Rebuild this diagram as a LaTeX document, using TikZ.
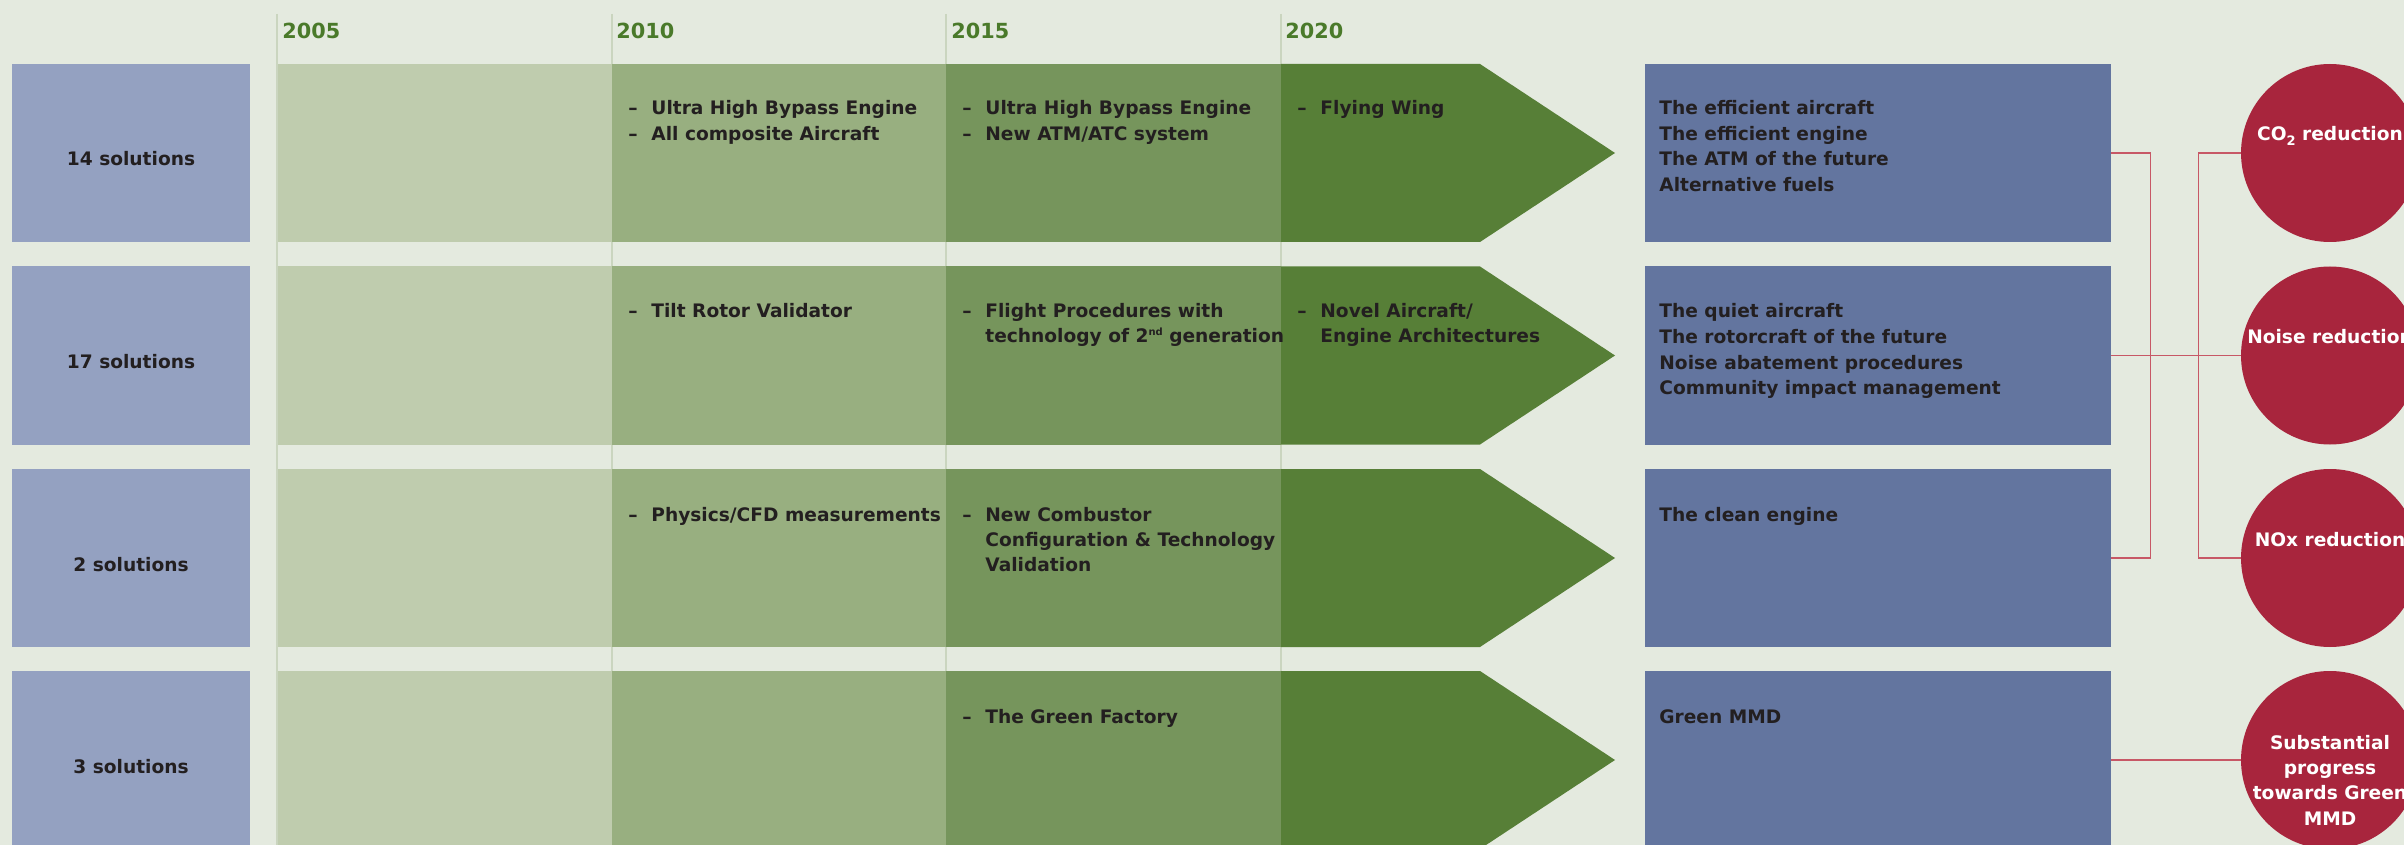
\documentclass[tikz,border=0pt]{standalone}
\usepackage{fontspec}
\setmainfont{DejaVu Sans}
\definecolor{bgc}{HTML}{E4EADF}
\definecolor{lboxc}{HTML}{94A1C1}
\definecolor{bandA}{HTML}{BFCCAE}
\definecolor{bandB}{HTML}{98AF80}
\definecolor{bandC}{HTML}{76955C}
\definecolor{bandD}{HTML}{577F37}
\definecolor{bboxc}{HTML}{63759F}
\definecolor{circc}{HTML}{A8253D}
\definecolor{yearc}{HTML}{4A7A2A}
\definecolor{ylinec}{HTML}{CAD5BF}
\definecolor{ink}{HTML}{231F20}
\definecolor{connc}{HTML}{C75866}
\newcommand{\tinysup}[1]{\raisebox{0.75ex}{\fontsize{5pt}{5pt}\selectfont #1}}
\newcommand{\tinysub}[1]{\raisebox{-0.45ex}{\fontsize{6.5pt}{6.5pt}\selectfont #1}}
\begin{document}
\begin{tikzpicture}[x=0.5pt,y=-0.5pt,
  txt/.style={font=\fontsize{9.3pt}{12pt}\selectfont\bfseries, text=ink, inner sep=0pt, anchor=base west},
  wtxt/.style={font=\fontsize{9.3pt}{12pt}\selectfont\bfseries, text=white, inner sep=0pt, anchor=base},
  ltxt/.style={font=\fontsize{9.3pt}{12pt}\selectfont\bfseries, text=ink, inner sep=0pt, anchor=base},
  year/.style={font=\fontsize{10.4pt}{12pt}\selectfont\bfseries, text=yearc, inner sep=0pt, anchor=base west},
  yline/.style={draw=ylinec, line width=0.8pt},
  lbox/.style={fill=lboxc, draw=none, minimum width=119pt, minimum height=89pt, inner sep=0pt},
  bbox/.style={fill=bboxc, draw=none, minimum width=233pt, minimum height=89pt, inner sep=0pt},
  circ/.style={circle, fill=circc, draw=none, minimum size=89pt, inner sep=0pt},
  conn/.style={draw=connc, line width=0.7pt}
]
\useasboundingbox (0,0) rectangle (2404,845);
\clip (0,0) rectangle (2404,845);
\fill[bgc] (0,0) rectangle (2404,845);

% year grid lines
\foreach \xx in {277,612,946,1281} {
  \draw[yline] (\xx,14) -- (\xx,845);
}
\node[year] (y2005) at (282,39) {2005};
\node[year] (y2010) at (616,39) {2010};
\node[year] (y2015) at (951,39) {2015};
\node[year] (y2020) at (1285,39) {2020};

% bands and arrows
\foreach \t in {64,266.5,469,671} {
  \fill[bandA] (278,\t) rectangle (612,\t+178);
  \fill[bandB] (612,\t) rectangle (946,\t+178);
  \fill[bandC] (946,\t) rectangle (1281,\t+178);
  \fill[bandD] (1281,\t) -- (1480,\t) -- (1615,\t+89) -- (1480,\t+178) -- (1281,\t+178) -- cycle;
}

% left boxes
\node[lbox] (l1) at (131,153) {};
\node[lbox] (l2) at (131,355.5) {};
\node[lbox] (l3) at (131,558) {};
\node[lbox] (l4) at (131,760) {};
\node[ltxt] (lt1) at (131,166) {14 solutions};
\node[ltxt] (lt2) at (131,368.5) {17 solutions};
\node[ltxt] (lt3) at (131,571) {2 solutions};
\node[ltxt] (lt4) at (131,773) {3 solutions};

% row 1 items
\node[txt] (d11a) at (628,115) {–};
\node[txt] (t11a) at (651,115) {Ultra High Bypass Engine};
\node[txt] (d11b) at (628,141) {–};
\node[txt] (t11b) at (651,141) {All composite Aircraft};
\node[txt] (d12a) at (962,115) {–};
\node[txt] (t12a) at (985,115) {Ultra High Bypass Engine};
\node[txt] (d12b) at (962,141) {–};
\node[txt] (t12b) at (985,141) {New ATM/ATC system};
\node[txt] (d13a) at (1297,115) {–};
\node[txt] (t13a) at (1320,115) {Flying Wing};

% row 2 items
\node[txt] (d21a) at (628,318) {–};
\node[txt] (t21a) at (651,318) {Tilt Rotor Validator};
\node[txt] (d22a) at (962,318) {–};
\node[txt] (t22a) at (985,318) {Flight Procedures with};
\node[txt] (t22b) at (985,343) {technology of 2\tinysup{nd} generation};
\node[txt] (d23a) at (1297,318) {–};
\node[txt] (t23a) at (1320,318) {Novel Aircraft/};
\node[txt] (t23b) at (1320,343) {Engine Architectures};

% row 3 items
\node[txt] (d31a) at (628,521) {–};
\node[txt] (t31a) at (651,521) {Physics/CFD measurements};
\node[txt] (d32a) at (962,521) {–};
\node[txt] (t32a) at (985,521) {New Combustor};
\node[txt] (t32b) at (985,546) {Configuration \& Technology};
\node[txt] (t32c) at (985,571) {Validation};

% row 4 items
\node[txt] (d42a) at (962,723) {–};
\node[txt] (t42a) at (985,723) {The Green Factory};

% blue boxes
\node[bbox] (b1) at (1878,153) {};
\node[bbox] (b2) at (1878,355.5) {};
\node[bbox] (b3) at (1878,558) {};
\node[bbox] (b4) at (1878,760) {};
\node[txt] (bt1a) at (1659,115) {The efficient aircraft};
\node[txt] (bt1b) at (1659,140.5) {The efficient engine};
\node[txt] (bt1c) at (1659,166) {The ATM of the future};
\node[txt] (bt1d) at (1659,191.5) {Alternative fuels};
\node[txt] (bt2a) at (1659,318) {The quiet aircraft};
\node[txt] (bt2b) at (1659,343.5) {The rotorcraft of the future};
\node[txt] (bt2c) at (1659,369) {Noise abatement procedures};
\node[txt] (bt2d) at (1659,394.5) {Community impact management};
\node[txt] (bt3a) at (1659,521) {The clean engine};
\node[txt] (bt4a) at (1659,723) {Green MMD};

% circles
\node[circ] (c1) at (2330,153) {};
\node[circ] (c2) at (2330,355.5) {};
\node[circ] (c3) at (2330,558) {};
\node[circ] (c4) at (2330,760) {};
\node[wtxt] (ct1) at (2330,141) {CO\tinysub{2} reduction};
\node[wtxt] (ct2) at (2330,343.5) {Noise reduction};
\node[wtxt] (ct3) at (2330,546) {NOx reduction};
\node[wtxt] (ct4a) at (2330,749) {Substantial};
\node[wtxt] (ct4b) at (2330,774) {progress};
\node[wtxt] (ct4c) at (2330,799) {towards Green};
\node[wtxt] (ct4d) at (2330,825) {MMD};

% connectors
\draw[conn] (b1.east) -- ++(39,0) |- (b3.east);
\draw[conn] (b2.east) -- (c2.west);
\draw[conn] (c1.west) -- ++(-42,0) |- (c3.west);
\draw[conn] (b4.east) -- (c4.west);
\end{tikzpicture}
\end{document}
